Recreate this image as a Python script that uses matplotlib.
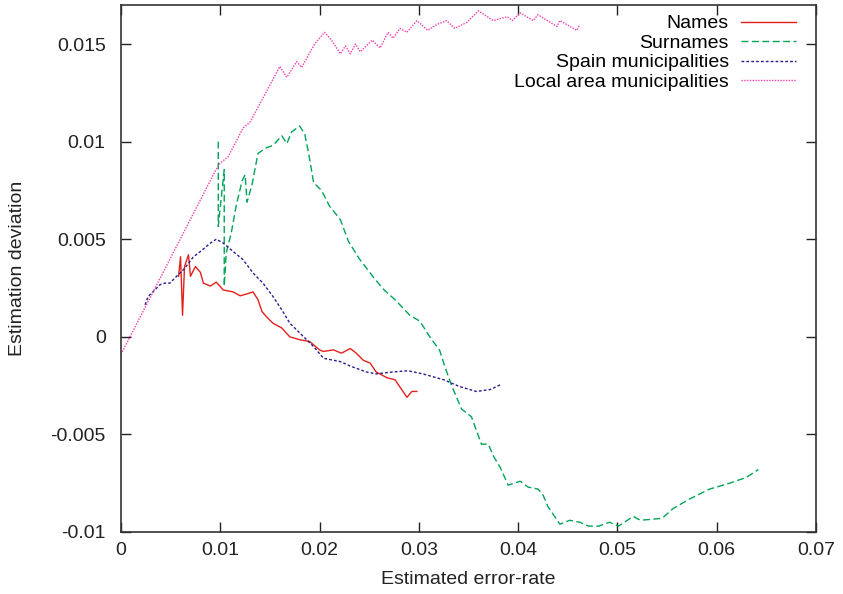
import matplotlib
matplotlib.use("Agg")
import matplotlib.pyplot as plt

plt.rcParams['font.family'] = ['Liberation Sans', 'DejaVu Sans']

# Names (red, solid)
names_x = [0.0058, 0.0060, 0.0062, 0.0064, 0.0068, 0.0070, 0.0075, 0.0080, 0.0083, 0.0090,
           0.0096, 0.0103, 0.0113, 0.0120, 0.0127, 0.0133, 0.0138, 0.0142, 0.0147, 0.0153,
           0.0162, 0.0170, 0.0180, 0.0190, 0.0200, 0.0204, 0.0214, 0.0222, 0.0231, 0.0237,
           0.0244, 0.0251, 0.0257, 0.0268, 0.0276, 0.0288, 0.0293, 0.0298]
names_y = [0.0031, 0.0041, 0.0011, 0.0036, 0.0042, 0.0031, 0.0036, 0.0033, 0.00275, 0.0026,
           0.0028, 0.0024, 0.0023, 0.0021, 0.0022, 0.0023, 0.0019, 0.0013, 0.0010, 0.0007,
           0.00045, 0.0000, -0.00015, -0.00024, -0.00067, -0.00075, -0.00067, -0.00084, -0.0006, -0.00084,
           -0.0012, -0.00135, -0.0018, -0.0021, -0.0022, -0.0031, -0.0028, -0.0028]

# Surnames (green, dashed)
surn_x = [0.0098, 0.0098, 0.0104, 0.0104, 0.0106, 0.0111, 0.0116, 0.0122, 0.0125, 0.0127,
          0.0132, 0.0138, 0.0147, 0.0153, 0.0162, 0.0167, 0.0172, 0.0180, 0.0185, 0.0189,
          0.0194, 0.0202, 0.0210, 0.0221, 0.0229, 0.0240, 0.0255, 0.0265, 0.0276, 0.0291,
          0.0301, 0.0311, 0.0321, 0.0326, 0.0333, 0.0343, 0.0353, 0.0363, 0.0370, 0.0375,
          0.0382, 0.0390, 0.0402, 0.0410, 0.0420, 0.0425, 0.0430, 0.0442, 0.0452, 0.0462,
          0.0471, 0.0481, 0.0492, 0.0501, 0.0516, 0.0523, 0.0545, 0.0556, 0.0573, 0.0593,
          0.0613, 0.0630, 0.0642]
surn_y = [0.0100, 0.00566, 0.00856, 0.0026, 0.0043, 0.0053, 0.0067, 0.0080, 0.0083, 0.0069,
          0.0078, 0.0094, 0.0097, 0.0098, 0.0103, 0.0099, 0.0105, 0.0108, 0.0104, 0.0094,
          0.0079, 0.0075, 0.0067, 0.0060, 0.0049, 0.0040, 0.0030, 0.0024, 0.0019, 0.0011,
          0.0008, 0.0000, -0.0007, -0.0015, -0.0025, -0.0037, -0.0041, -0.0055, -0.0055, -0.0061,
          -0.0067, -0.0076, -0.0074, -0.0077, -0.0078, -0.0081, -0.0087, -0.0096, -0.0094, -0.0095,
          -0.0097, -0.0097, -0.0095, -0.0097, -0.0092, -0.0094, -0.0093, -0.0088, -0.0083, -0.0078,
          -0.0075, -0.0072, -0.0068]

# Spain municipalities (navy, dotted)
spain_x = [0.00242, 0.00275, 0.00325, 0.00393, 0.00443, 0.00493, 0.0056, 0.0063, 0.0073, 0.0080,
           0.0090, 0.0096, 0.0103, 0.0113, 0.0123, 0.0133, 0.0143, 0.0153, 0.0163, 0.0170,
           0.0184, 0.0194, 0.0204, 0.0221, 0.0231, 0.0247, 0.0257, 0.0274, 0.0289, 0.0304,
           0.0325, 0.0341, 0.0358, 0.0372, 0.0382]
spain_y = [0.00164, 0.00207, 0.00232, 0.00267, 0.00275, 0.00275, 0.0031, 0.00344, 0.0041, 0.00437,
           0.0048, 0.0050, 0.0048, 0.00437, 0.00395, 0.00327, 0.00275, 0.00207, 0.0013, 0.0007,
           0.0000, -0.0005, -0.0011, -0.00127, -0.0015, -0.0018, -0.0019, -0.0018, -0.00174, -0.0019,
           -0.0022, -0.00255, -0.0028, -0.0027, -0.00246]

# Local area municipalities (magenta, dotted)
local_x = [0.0000, 0.0095, 0.0100, 0.0108, 0.0123, 0.0130, 0.0160, 0.0167, 0.0177, 0.0182,
           0.0195, 0.0205, 0.0212, 0.0221, 0.0226, 0.0231, 0.0236, 0.0241, 0.0253, 0.0261,
           0.0269, 0.0274, 0.0281, 0.0288, 0.0298, 0.0309, 0.0318, 0.0328, 0.0336, 0.0348,
           0.0360, 0.0375, 0.0389, 0.0394, 0.0402, 0.0415, 0.0420, 0.0439, 0.0442, 0.0459, 0.0462]
local_y = [-0.0009, 0.0085, 0.0089, 0.00923, 0.0107, 0.0110, 0.01385, 0.0133, 0.0141, 0.0138,
           0.0150, 0.0156, 0.0152, 0.0145, 0.0149, 0.0145, 0.0150, 0.0146, 0.0152, 0.0148,
           0.0156, 0.0153, 0.0158, 0.0156, 0.0162, 0.0157, 0.0160, 0.0162, 0.0158, 0.0161,
           0.0167, 0.0162, 0.0164, 0.0162, 0.0166, 0.0162, 0.0165, 0.0159, 0.0162, 0.0157, 0.0160]

xticks = [0, 0.01, 0.02, 0.03, 0.04, 0.05, 0.06, 0.07]
xtick_labels = ['0', '0.01', '0.02', '0.03', '0.04', '0.05', '0.06', '0.07']
yticks = [-0.01, -0.005, 0, 0.005, 0.01, 0.015]
ytick_labels = ['-0.01', '-0.005', '0', '0.005', '0.01', '0.015']

fig = plt.figure(figsize=(8.43, 5.94), dpi=100)
ax = fig.add_axes([0.1435, 0.1044, 0.8245, 0.8872])

ax.plot(names_x, names_y, color='#e3211c', lw=1.0, ls='-', label='Names')
ax.plot(surn_x, surn_y, color='#00a456', lw=1.0, ls=(0, (5, 2.5)), label='Surnames')
ax.plot(spain_x, spain_y, color='#2a1d8e', lw=1.0, ls=(0, (2, 1.5)), label='Spain municipalities')
ax.plot(local_x, local_y, color='#f03ab0', lw=1.0, ls=(0, (1, 1)), label='Local area municipalities')

ax.set_xlim(0, 0.07)
ax.set_ylim(-0.01, 0.017)
ax.set_xticks(xticks)
ax.set_xticklabels(xtick_labels)
ax.set_yticks(yticks)
ax.set_yticklabels(ytick_labels)
ax.tick_params(direction='in', length=7, width=1, top=True, right=True,
               labelsize=14, colors='#222222')
ax.tick_params(axis='x', pad=7)
ax.tick_params(axis='y', pad=11)
for s in ax.spines.values():
    s.set_color('#333333')
    s.set_linewidth(1.2)

ax.set_xlabel('Estimated error-rate', fontsize=14, color='#222222', va='center')
ax.set_ylabel('Estimation deviation', fontsize=14, color='#222222', va='center')
ax.xaxis.set_label_coords(0.5, -0.091)
ax.yaxis.set_label_coords(-0.149, 0.5)

leg = ax.legend(loc='upper right', frameon=False, markerfirst=False, fontsize=14,
                handlelength=2.8, labelspacing=0.1, borderaxespad=0.15, borderpad=0.35,
                handletextpad=0.65)
leg.set_bbox_to_anchor((0.985, 1.0), transform=ax.transAxes)

fig.savefig('out.png', dpi=100)
